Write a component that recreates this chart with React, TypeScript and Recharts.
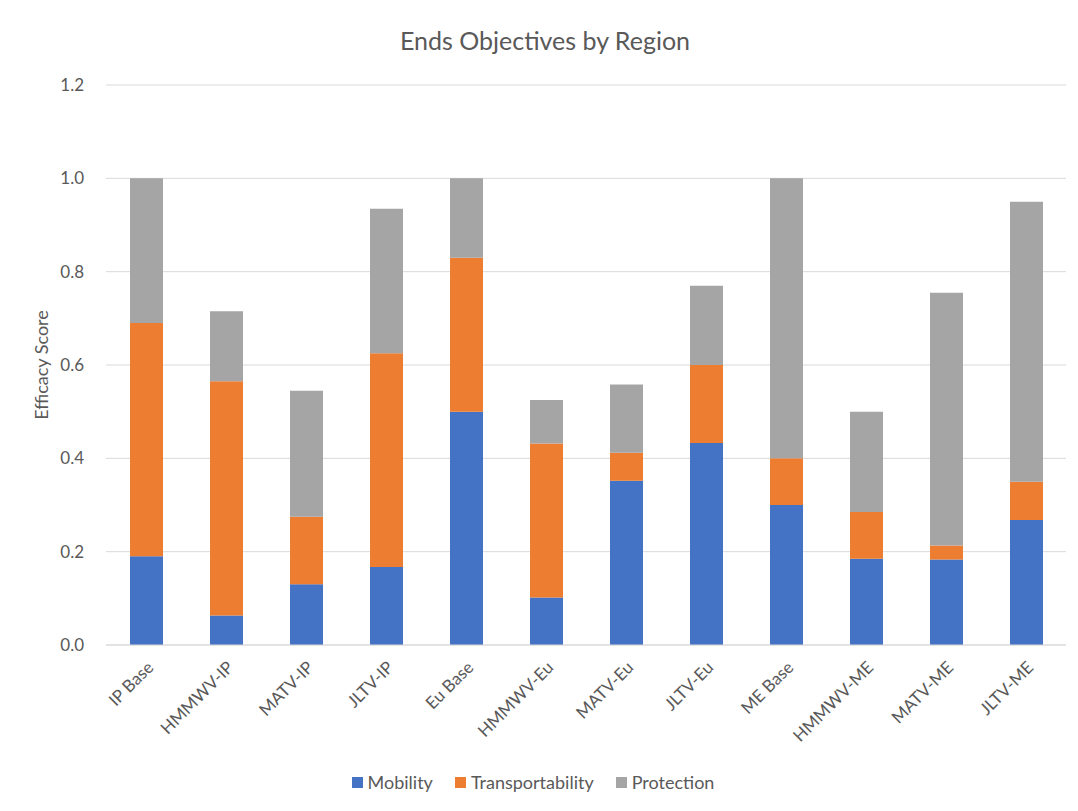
import React from "react";
import { BarChart, Bar, XAxis, YAxis, CartesianGrid, Legend } from "recharts";

const categories = ["IP Base", "HMMWV-IP", "MATV-IP", "JLTV-IP", "Eu Base", "HMMWV-Eu", "MATV-Eu", "JLTV-Eu", "ME Base", "HMMWV-ME", "MATV-ME", "JLTV-ME"];
const mobility = [0.19, 0.063, 0.13, 0.167, 0.5, 0.102, 0.352, 0.433, 0.3, 0.185, 0.183, 0.268];
const transportability = [0.5, 0.502, 0.145, 0.458, 0.33, 0.33, 0.06, 0.167, 0.1, 0.1, 0.03, 0.082];
const protection = [0.31, 0.15, 0.27, 0.31, 0.17, 0.093, 0.146, 0.17, 0.6, 0.215, 0.542, 0.6];
const yTicks = [0, 0.2, 0.4, 0.6, 0.8, 1.0, 1.2];
const seriesNames = ["Mobility", "Transportability", "Protection"];
const seriesColors = ["#4472c4", "#ed7d31", "#a5a5a5"];

const data = categories.map((name, i) => ({
  name,
  Mobility: mobility[i],
  Transportability: transportability[i],
  Protection: protection[i],
}));

const FONT = "Lato, 'Open Sans', sans-serif";
const TEXT = "#595959";

const XTick = (props: any) => {
  const { x, y, payload } = props;
  return (
    <g transform={`translate(${x + 5},${y + 12})`}>
      <text textAnchor="end" transform="rotate(-45)" fill={TEXT} fontSize={17} fontFamily={FONT} dy={5}>
        {payload.value}
      </text>
    </g>
  );
};

const LegendContent = () => (
  <div style={{ display: "flex", justifyContent: "center", gap: 22, fontFamily: FONT, fontSize: 18, color: TEXT }}>
    {seriesNames.map((n, i) => (
      <div key={n} style={{ display: "flex", alignItems: "center", gap: 5 }}>
        <span style={{ display: "inline-block", width: 11, height: 11, background: seriesColors[i] }} />
        <span>{n}</span>
      </div>
    ))}
  </div>
);

export default function App() {
  return (
    <div style={{ position: "absolute", left: 0, top: 0, width: 1078, height: 811, background: "#fff" }}>
      <BarChart width={1078} height={811} data={data} margin={{ top: 85, right: 12, left: 0, bottom: 38 }} barSize={33}>
        <text x={545} y={50} textAnchor="middle" fill={TEXT} fontSize={25} fontFamily={FONT}>
          Ends Objectives by Region
        </text>
        <CartesianGrid vertical={false} stroke="#d9d9d9" />
        <XAxis dataKey="name" tick={<XTick />} tickLine={false} axisLine={{ stroke: "#d9d9d9" }} height={106} interval={0} />
        <YAxis
          width={106}
          domain={[0, 1.2]}
          ticks={yTicks}
          tickFormatter={(v: number) => v.toFixed(1)}
          tick={{ fill: TEXT, fontSize: 17, fontFamily: FONT }}
          tickLine={false}
          axisLine={false}
          tickMargin={16}
          label={{ value: "Efficacy Score", angle: -90, position: "insideLeft", offset: 42, style: { textAnchor: "middle", fill: TEXT, fontSize: 18, fontFamily: FONT } }}
        />
        <Legend verticalAlign="bottom" align="center" content={<LegendContent />} wrapperStyle={{ bottom: 18 }} />
        {seriesNames.map((n, i) => (
          <Bar key={n} dataKey={n} stackId="a" fill={seriesColors[i]} isAnimationActive={false} />
        ))}
      </BarChart>
    </div>
  );
}
